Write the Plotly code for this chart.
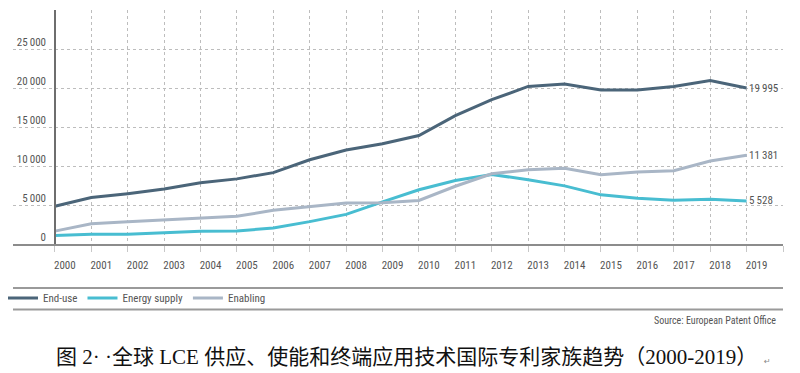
import plotly.graph_objects as go

years = list(range(2000, 2020))
end_use = [4850, 5950, 6450, 7050, 7850, 8350, 9150, 10800, 12050, 12850, 13900,
           16450, 18500, 20200, 20500, 19750, 19750, 20200, 20950, 19995]
energy_supply = [1080, 1240, 1240, 1410, 1650, 1670, 2050, 2870, 3800, 5400, 6950,
                 8150, 8900, 8250, 7450, 6300, 5880, 5600, 5730, 5528]
enabling = [1650, 2600, 2850, 3080, 3250, 3550, 4320, 4740, 5250, 5300, 5580,
            7400, 9000, 9520, 9720, 8880, 9220, 9400, 10650, 11381]

series_names = ["End-use", "Energy supply", "Enabling"]
series_values = [end_use, energy_supply, enabling]
series_colors = ["#4b6579", "#48bdd1", "#a9b6c6"]
end_labels = ["19\u2009995", "11\u2009381", "5\u2009528"]

y_tickvals = [0, 5000, 10000, 15000, 20000, 25000, 30000]
y_ticktext = ["0", "5\u2009000", "10\u2009000", "15\u2009000", "20\u2009000", "25\u2009000", ""]
x_tickvals = list(range(2000, 2021))
x_ticktext = [str(y) for y in range(2000, 2020)] + [""]

title_text = "图 2· ·全球 LCE 供应、使能和终端应用技术国际专利家族趋势（2000-2019）"
source_text = "Source: European Patent Office"

FONT = "Liberation Sans Narrow, Roboto Condensed, Noto Sans, sans-serif"
TXT = "#555555"

fig = go.Figure()
for name, vals, col in zip(series_names, series_values, series_colors):
    fig.add_trace(go.Scatter(x=years, y=vals, name=name, mode="lines",
                             line=dict(color=col, width=3), hoverinfo="skip"))

# end labels
end_vals = [end_use[-1], enabling[-1], energy_supply[-1]]
for v, t in zip(end_vals, [end_labels[0], end_labels[1], end_labels[2]]):
    fig.add_annotation(x=years[-1], y=v, text=t, showarrow=False, xanchor="left",
                       yanchor="middle", xshift=0, font=dict(family=FONT, size=11, color=TXT))

L, R, T, B = 13, 17, 10, 129
W, H = 800, 373
pw = W - L - R
ph = H - T - B

def px_x(X):
    return (X - L) / pw

def px_y(Y):
    return (H - B - Y) / ph

# legend separator lines
for Y in (288, 309.5):
    fig.add_shape(type="line", xref="paper", yref="paper", x0=0, x1=1,
                  y0=px_y(Y), y1=px_y(Y), line=dict(color="#9a9a9a", width=2))

fig.add_annotation(xref="paper", yref="paper", x=px_x(778), y=px_y(320), text=source_text,
                   showarrow=False, xanchor="right", yanchor="middle",
                   font=dict(family=FONT, size=10, color=TXT))

fig.add_annotation(xref="paper", yref="paper", x=px_x(54), y=px_y(357), text=title_text,
                   showarrow=False, xanchor="left", yanchor="middle",
                   font=dict(family="Liberation Serif, Noto Sans CJK SC", size=21, color="#111111"))
fig.add_annotation(xref="paper", yref="paper", x=px_x(762), y=px_y(361), text="↵",
                   showarrow=False, xanchor="left", yanchor="middle",
                   font=dict(family="DejaVu Sans", size=8, color="#888888"))

fig.update_layout(
    width=W, height=H,
    margin=dict(l=L, r=R, t=T, b=B, pad=0, autoexpand=False),
    paper_bgcolor="white", plot_bgcolor="white",
    showlegend=True,
    legend=dict(orientation="h", x=px_x(3), y=px_y(298), xanchor="left", yanchor="middle",
                font=dict(family=FONT, size=11, color=TXT), bgcolor="rgba(0,0,0,0)",
                itemwidth=30, tracegroupgap=0),
    xaxis=dict(range=[1998.85, 2020], domain=[0, 1], tickvals=x_tickvals, ticktext=x_ticktext,
               showgrid=True, gridcolor="#bdbdbd", griddash="dot", gridwidth=1,
               showline=True, linecolor="#8c8c8c", linewidth=1.5, zeroline=False,
               ticks="outside", ticklen=6, tickcolor="#c8c8c8", tickwidth=1,
               ticklabelshift=10, ticklabelstandoff=4,
               tickfont=dict(family=FONT, size=11, color=TXT), fixedrange=True),
    yaxis=dict(range=[0, 30000], anchor="free", position=px_x(55), tickvals=y_tickvals,
               ticktext=y_ticktext, showgrid=True, gridcolor="#bdbdbd", griddash="dot",
               gridwidth=1, showline=True, linecolor="#6e6e6e", linewidth=1.5, zeroline=False,
               ticks="", ticklabelshift=-7, ticklabelstandoff=6,
               tickfont=dict(family=FONT, size=11, color=TXT), fixedrange=True),
)

fig.write_html("out.html", config={"displayModeBar": False},
               post_script="document.body.style.margin='0';document.body.style.overflow='hidden';")
